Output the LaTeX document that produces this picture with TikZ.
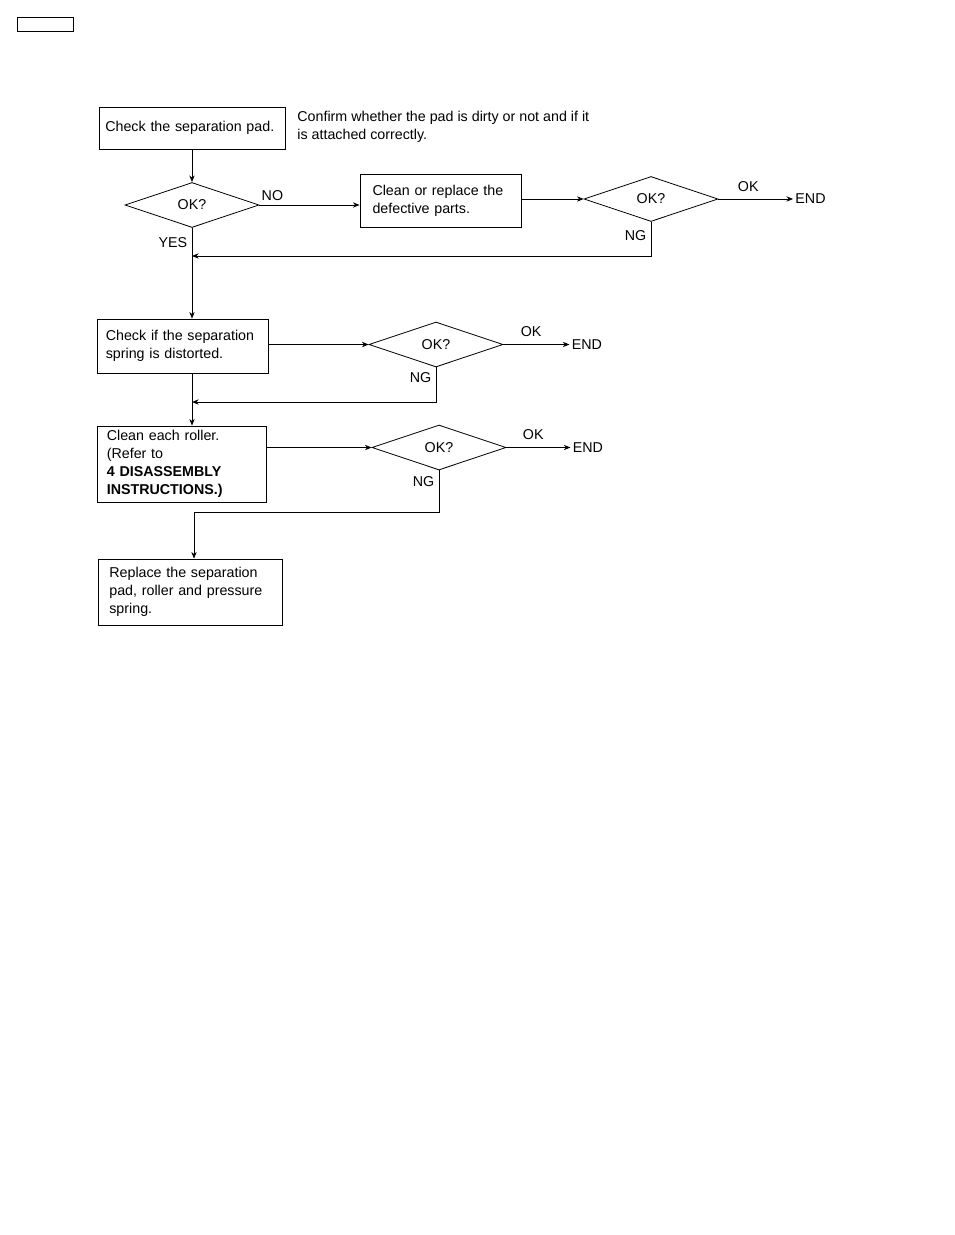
\documentclass[tikz,border=0pt]{standalone}
\usepackage{fontspec}
\setmainfont{Liberation Sans}
\usepackage{tikz}
\usetikzlibrary{positioning}
\usetikzlibrary{arrows.meta}
\usetikzlibrary{shapes,calc}
\tikzset{proc node/.style={draw,rectangle,align=left,inner ysep=0pt},
	test node/.style={draw,diamond,inner sep=0pt,minimum width=100.5pt,minimum height=33.75pt},
	end node/.style={inner sep=1.5pt},}

\begin{document}
\begin{tikzpicture}[x=0.75pt,y=-0.75pt,>={Stealth[length=5pt,width=4pt]},line width=0.6pt,font=\fontsize{10.7}{13.5}\selectfont]
		\useasboundingbox (0,0) rectangle (954,1235);
		\node[draw, minimum width=42pt, minimum height=10.5pt, inner sep=0pt] (hdr) at (45,24) {};

		\node[proc node, minimum height=31.5pt, text width=130pt, inner xsep=4.75pt] (pad) at (192,128) {Check the separation pad.};
		\node[anchor=north west, inner sep=0pt, align=left] (note) at (297,111) {Confirm whether the pad is dirty or not and if it\\is attached correctly.};
		\node[test node] (ok1) at (192,205) {OK?};
		\node[proc node, minimum height=39.75pt, text width=102pt, inner xsep=9.4pt] (clean) at (440.5,200.5) {Clean or replace the\\defective parts.};
		\node[test node] (ok2) at (651,199) {OK?};
		\node[end node, right=56pt of ok2] (end2) {END};
		\node[proc node, minimum height=40.5pt, text width=115pt, inner xsep=6.6pt] (spring) at (182.5,346) {Check if the separation\\spring is distorted.};
		\node[test node] (ok3) at (436,344.5) {OK?};
		\node[end node, right=49.5pt of ok3] (end3) {END};
		\node[proc node, minimum height=57pt, text width=112pt, inner xsep=7.4pt] (roller) at (181.5,464) {Clean each roller.\\(Refer to\\\textbf{4 DISASSEMBLY}\\\textbf{INSTRUCTIONS.)}};
		\node[test node] (ok4) at (439,447.5) {OK?};
		\node[end node, right=48pt of ok4] (end4) {END};
		\node[proc node, minimum height=49.5pt, text width=121pt, inner xsep=8.5pt] (replace) at (190,592) {Replace the separation\\pad, roller and pressure\\spring.};

		\coordinate (j1) at (192,256);
		\coordinate (j2) at (192,402);
		\coordinate (j3) at (194,512);

		\draw[->] (pad) -- (ok1);
		\draw[->] (ok1.east) -- node[pos=.13,above]{NO} (ok1.east -| clean.west);
		\draw[->] (clean.east |- ok2.west) -- (ok2.west);
		\draw[->] (ok2) -- node[pos=.4,above=2pt]{OK} (end2);
		\draw[->] (ok2.south) |- node[pos=.2,left]{NG} (j1);
		\draw[->] (ok1.south) -- node[pos=.16,left]{YES} (ok1.south |- spring.north);
		\draw[->] (spring.east |- ok3.west) -- (ok3.west);
		\draw[->] (ok3) -- node[pos=.42,above=2pt]{OK} (end3);
		\draw[->] (ok3.south) |- node[pos=.14,left]{NG} (j2);
		\draw[->] (j1 |- spring.south) -- (j1 |- roller.north);
		\draw[->] (roller.east |- ok4.west) -- (ok4.west);
		\draw[->] (ok4) -- node[pos=.42,above=2pt]{OK} (end4);
		\draw[->] (ok4.south) |- node[pos=.14,left]{NG} (j3) -- (j3 |- replace.north);
	\end{tikzpicture}
\end{document}
